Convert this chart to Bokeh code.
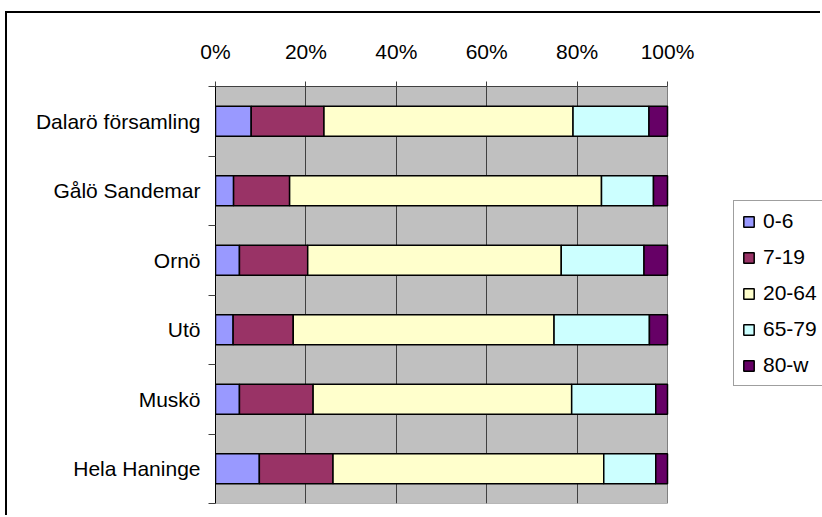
from bokeh.plotting import figure
from bokeh.models import (ColumnDataSource, FixedTicker, Legend, LegendItem, Range1d)
from bokeh.embed import file_html
from bokeh.resources import INLINE

categories = ["Dalarö församling", "Gålö Sandemar", "Ornö", "Utö", "Muskö", "Hela Haninge"]
series = ["0-6", "7-19", "20-64", "65-79", "80-w"]
a0_6 = [7.9, 4.0, 5.3, 3.9, 5.3, 9.7]
a7_19 = [16.1, 12.4, 15.1, 13.3, 16.3, 16.3]
a20_64 = [55.1, 69.0, 56.1, 57.7, 57.2, 59.9]
a65_79 = [16.8, 11.5, 18.3, 21.1, 18.6, 11.5]
a80_w = [4.1, 3.1, 5.2, 4.0, 2.6, 2.6]
x_ticks = [0, 20, 40, 60, 80, 100]
x_tick_labels = ["0%", "20%", "40%", "60%", "80%", "100%"]

colors = ["#9999FF", "#993366", "#FFFFCC", "#CCFFFF", "#660066"]
FONT = "Liberation Sans"

n = len(categories)
ypos = [n - i - 0.5 for i in range(n)]
data = {"y": ypos, "0-6": a0_6, "7-19": a7_19, "20-64": a20_64,
        "65-79": a65_79, "80-w": a80_w}
src = ColumnDataSource(data)

# layout (pixels)
W, H = 815, 504
LEFT, TOP, BOTTOM = 208, 73, 14
AREA_W = 452  # pixel width of the 0..100% plot area
frame_w = W - LEFT
x_max = x_ticks[-1] * frame_w / AREA_W

p = figure(width=W, height=H, output_backend="svg", toolbar_location=None,
           x_axis_location="above", x_range=Range1d(0, x_max), y_range=Range1d(0, n),
           min_border_left=LEFT, min_border_right=0, min_border_top=TOP,
           min_border_bottom=BOTTOM)
p.styles = {"margin-left": "5px", "margin-top": "11px",
            "border-left": "2px solid black", "border-top": "2px solid black"}
p.background_fill_color = "white"
p.border_fill_color = "white"
p.outline_line_color = None

# plot area (0..100%) background
p.quad(left=[x_ticks[0]], right=[x_ticks[-1]], bottom=[0], top=[n],
       fill_color="#C0C0C0", line_color="#808080", line_width=1, level="image")

renderers = p.hbar_stack(series, y="y", height=0.43, color=colors, source=src,
                         line_color="black", line_width=1.5)

# axes
xa = p.xaxis[0]
xa.ticker = FixedTicker(ticks=x_ticks)
xa.bounds = (x_ticks[0], x_ticks[-1])
xa.major_label_overrides = {t: l for t, l in zip(x_ticks, x_tick_labels)}
xa.major_label_text_font = FONT
xa.major_label_text_font_size = "21px"
xa.major_label_text_color = "black"
xa.major_tick_out = 5
xa.major_tick_in = 0
xa.minor_tick_out = 0
xa.major_label_standoff = 19
xa.axis_line_color = "#404040"
xa.major_tick_line_color = "#404040"

ya = p.yaxis[0]
ya.ticker = FixedTicker(ticks=ypos, minor_ticks=list(range(n + 1)))
ya.major_label_overrides = {y: c for y, c in zip(ypos, categories)}
ya.major_label_text_font = FONT
ya.major_label_text_font_size = "21px"
ya.major_label_text_color = "black"
ya.major_tick_out = 0
ya.major_tick_in = 0
ya.minor_tick_out = 7
ya.minor_tick_in = 0
ya.major_label_standoff = 8
ya.axis_line_color = "black"
ya.minor_tick_line_color = "#404040"

p.xgrid.ticker = FixedTicker(ticks=x_ticks[1:-1])
p.xgrid.grid_line_color = "#404040"
p.xgrid.grid_line_width = 1
p.ygrid.grid_line_color = None

items = [LegendItem(label=s, renderers=[r]) for s, r in zip(series, renderers)]
legend = Legend(items=items, location=(518, 117), orientation="vertical",
                label_text_font=FONT, label_text_font_size="21px",
                label_text_color="black", glyph_width=13, glyph_height=13,
                label_standoff=8, label_width=92, spacing=12,
                padding=8, margin=0, border_line_color="#404040",
                border_line_width=1, background_fill_color="white",
                background_fill_alpha=1)
p.add_layout(legend, "center")

open("out.html", "w").write(file_html(p, INLINE))
